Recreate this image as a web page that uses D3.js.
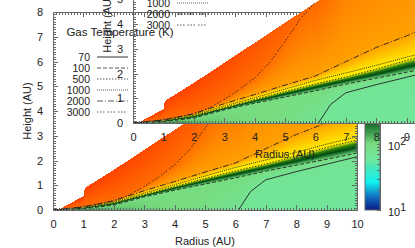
<!DOCTYPE html>
<html>
<head>
<meta charset="utf-8">
<script src="https://cdn.jsdelivr.net/npm/d3@7"></script>
<style>
  html, body { margin: 0; padding: 0; background: #fff; overflow: hidden; }
  svg { display: block; }
  text { font-family: "Liberation Sans", sans-serif; font-size: 11px; fill: #222; }
  .axis path, .axis line { stroke: #666; shape-rendering: crispEdges; }
  .axis text { font-size: 11px; fill: #222; }
  .title { font-size: 11.5px; }
  .legend-row text { font-size: 10.5px; }
</style>
</head>
<body>
<div id="chart"></div>
<script>
// isotherm heights (AU)
const radii      = [0, 1, 2, 3, 4, 5, 6, 7, 8, 9, 10];
const height100  = [0, 0.05, 0.20, 0.53, 0.80, 1.05, 1.30, 1.57, 1.81, 2.05, 2.30];
const heightPeak = [0, 0.07, 0.25, 0.58, 0.87, 1.16, 1.43, 1.70, 1.97, 2.26, 2.53];
const height500  = [0, 0.09, 0.30, 0.62, 0.95, 1.27, 1.58, 1.86, 2.18, 2.53, 2.83];
const height1000 = [0, 0.10, 0.33, 0.68, 1.02, 1.37, 1.72, 2.02, 2.33, 2.66, 2.96];
const height2000 = [0, 0.12, 0.37, 0.78, 1.15, 1.53, 1.90, 2.48, 3.05, 3.52, 4.05];

const radii70   = [6.1, 6.5, 7, 8, 9, 10];
const height70  = [0, 0.75, 1.22, 1.55, 1.85, 2.15];
const radii3000  = [0, 1, 1.5, 2, 2.5, 3, 3.5, 4, 4.5, 5, 5.5, 6];
const height3000 = [0, 0.14, 0.25, 0.38, 0.6, 0.95, 1.35, 1.82, 2.45, 3.3, 4.2, 4.9];

// upper edge of the model grid, with the step at 1 AU
const topRadii  = [0, 0.2, 0.56, 0.95, 1, 1.05, 2, 3, 4, 5, 6, 7, 8, 9, 10];
const topHeight = [0, 0.02, 0.27, 0.52, 0.54, 0.89, 1.62, 2.43, 3.24, 4.05, 4.86, 5.67, 6.48, 7.29, 8.1];
const topLogT   = [3.85, 3.85, 3.85, 3.85, 3.85, 3.85, 3.82, 3.78, 3.68, 3.58, 3.5, 3.42, 3.4, 3.39, 3.38];

// log10 T in the midplane
const midRadii = [0, 1, 2, 3, 5, 6.1, 7, 10];
const midLogT  = [2.4, 2.3, 2.1, 2.03, 1.97, 1.85, 1.82, 1.78];

const isoLogT = { t70: 1.845, t100: 2, peak: 2.4, t500: 2.7, t1000: 3, t2000: 3.3, t3000: 3.48 };

// colour bar stops
const colourLogT = [1, 1.2, 1.42, 1.68, 1.75, 2, 2.14, 2.4, 2.55, 2.7, 3, 3.3, 3.48, 3.85];
const colourHex  = ["#0a1a8a", "#1070c0", "#10f0f0", "#50e8b0", "#70e8a0", "#78dc80", "#48a858",
                    "#004a10", "#2f7f10", "#fff000", "#ffe400", "#ffa000", "#ff6c00", "#ff4000"];

const xTicks = [0, 1, 2, 3, 4, 5, 6, 7, 8, 9, 10];
const yTicks = [0, 1, 2, 3, 4, 5, 6, 7, 8];
const legendLabels = ["70", "100", "500", "1000", "2000", "3000"];
const barExponents = [1, 2, 3, 4];

const width = 415, height = 248;
const margin = { left: 53, top: 12 };
const plotW = 304, plotH = 198;

const xScale = d3.scaleLinear().domain([0, 10]).range([0, plotW]);
const yScale = d3.scaleLinear().domain([0, 8]).range([plotH, 0]);
const colour = d3.scaleLinear().domain(colourLogT).range(colourHex).clamp(true);

const lineStyles = {
  "70":   "",
  "100":  "4,2",
  "500":  "1.5,1.5",
  "1000": "1,1",
  "2000": "6,2,1,2",
  "3000": "1.5,1.5,1.5,1.5,1.5,3"
};

const contours = [
  { label: "70",   r: radii70,   z: height70 },
  { label: "100",  r: radii,     z: height100 },
  { label: "500",  r: radii,     z: height500 },
  { label: "1000", r: radii,     z: height1000 },
  { label: "2000", r: radii,     z: height2000 },
  { label: "3000", r: radii3000, z: height3000 }
];

// paint the temperature field once, both panels share it
const fieldImage = () => {
  const canvas = document.createElement("canvas");
  canvas.width = plotW;
  canvas.height = plotH;
  const ctx = canvas.getContext("2d");
  const img = ctx.createImageData(plotW, plotH);

  const at = (rs, zs) => d3.scaleLinear().domain(rs).range(zs);
  const top = at(topRadii, topHeight), topT = at(topRadii, topLogT), mid = at(midRadii, midLogT);
  const z70 = at(radii70, height70), z100 = at(radii, height100), zPeak = at(radii, heightPeak);
  const z500 = at(radii, height500), z1000 = at(radii, height1000), z2000 = at(radii, height2000);
  const z3000 = at(radii3000, height3000);

  for (let i = 0; i < plotW; i++) {
    const r = xScale.invert(i + 0.5);
    const rows = [[0, mid(r)]];
    if (r >= 6.1) rows.push([z70(r), isoLogT.t70]);
    rows.push([z100(r), isoLogT.t100], [zPeak(r), isoLogT.peak], [z500(r), isoLogT.t500],
              [z1000(r), isoLogT.t1000], [z2000(r), isoLogT.t2000]);
    if (r < 6 && z3000(r) < top(r)) rows.push([z3000(r), isoLogT.t3000]);
    rows.push([top(r), topT(r)]);
    const logT = d3.scaleLinear().domain(rows.map(d => d[0])).range(rows.map(d => d[1]));
    const zTop = top(r);
    for (let j = 0; j < plotH; j++) {
      const z = yScale.invert(j + 0.5);
      if (z > zTop) continue;
      const c = d3.rgb(colour(logT(z)));
      const k = (j * plotW + i) * 4;
      img.data[k] = c.r; img.data[k + 1] = c.g; img.data[k + 2] = c.b; img.data[k + 3] = 255;
    }
  }
  ctx.putImageData(img, 0, 0);
  return canvas.toDataURL();
};

const svg = d3.select("#chart").append("svg")
  .attr("width", width)
  .attr("height", height);

// colour bar gradient
const grad = svg.append("defs").append("linearGradient")
  .attr("id", "bar-grad")
  .attr("x1", 0).attr("x2", 0).attr("y1", 1).attr("y2", 0);
grad.selectAll("stop")
  .data(colourLogT)
  .join("stop")
    .attr("offset", d => (d - 1) / 3)
    .attr("stop-color", (d, i) => colourHex[i]);

const fieldHref = fieldImage();
const lineGen = d3.line().x(d => xScale(d[0])).y(d => yScale(d[1]));

const drawPanel = (dx, dy) => {
  const g = svg.append("g").attr("transform", `translate(${margin.left + dx}, ${margin.top + dy})`);

  g.append("image")
    .attr("href", fieldHref)
    .attr("width", plotW)
    .attr("height", plotH);

  // contours
  g.selectAll(".iso")
    .data(contours)
    .join("path")
      .attr("class", "iso")
      .attr("d", d => lineGen(d.r.map((r, i) => [r, d.z[i]])))
      .attr("fill", "none")
      .attr("stroke", "#222")
      .attr("stroke-width", 0.9)
      .attr("stroke-dasharray", d => lineStyles[d.label]);

  // axes, minor ticks first
  const xMinor = d3.range(0, 101).map(d => d / 10);
  const yMinor = d3.range(0, 81).map(d => d / 10);
  const noLabel = "";

  g.append("g").attr("class", "axis").attr("transform", `translate(0, ${plotH})`)
    .call(d3.axisBottom(xScale).tickValues(xMinor).tickSize(-2.5).tickSizeOuter(0).tickFormat(() => noLabel));
  g.append("g").attr("class", "axis").attr("transform", `translate(0, ${plotH})`)
    .call(d3.axisBottom(xScale).tickValues(xTicks).tickSize(-5).tickSizeOuter(0).tickPadding(10).tickFormat(d3.format("d")));
  g.append("g").attr("class", "axis")
    .call(d3.axisTop(xScale).tickValues(xMinor).tickSize(-2.5).tickSizeOuter(0).tickFormat(() => noLabel));
  g.append("g").attr("class", "axis")
    .call(d3.axisTop(xScale).tickValues(xTicks).tickSize(-5).tickSizeOuter(0).tickFormat(() => noLabel));

  g.append("g").attr("class", "axis")
    .call(d3.axisLeft(yScale).tickValues(yMinor).tickSize(-2.5).tickSizeOuter(0).tickFormat(() => noLabel));
  g.append("g").attr("class", "axis")
    .call(d3.axisLeft(yScale).tickValues(yTicks).tickSize(-5).tickSizeOuter(0).tickPadding(10).tickFormat(d3.format("d")));
  g.append("g").attr("class", "axis").attr("transform", `translate(${plotW}, 0)`)
    .call(d3.axisRight(yScale).tickValues(yMinor).tickSize(-2.5).tickSizeOuter(0).tickFormat(() => noLabel));
  g.append("g").attr("class", "axis").attr("transform", `translate(${plotW}, 0)`)
    .call(d3.axisRight(yScale).tickValues(yTicks).tickSize(-5).tickSizeOuter(0).tickFormat(() => noLabel));

  g.append("text")
    .attr("x", plotW / 2)
    .attr("y", plotH + 35)
    .attr("text-anchor", "middle")
    .text("Radius (AU)");

  g.append("text")
    .attr("transform", "rotate(-90)")
    .attr("x", -plotH / 2)
    .attr("y", -22)
    .attr("text-anchor", "middle")
    .text("Height (AU)");

  // legend
  g.append("text")
    .attr("class", "title")
    .attr("x", 67)
    .attr("y", 24)
    .attr("text-anchor", "middle")
    .text("Gas Temperature (K)");

  const legend = g.selectAll(".legend-row")
    .data(legendLabels)
    .join("g")
      .attr("class", "legend-row")
      .attr("transform", (d, i) => `translate(0, ${45 + i * 11})`);
  legend.append("text")
    .attr("x", 37)
    .attr("y", 4)
    .attr("text-anchor", "end")
    .text(d => d);
  legend.append("line")
    .attr("x1", 44).attr("x2", 75)
    .attr("y1", 0).attr("y2", 0)
    .attr("stroke", d => d === "70" ? "#999" : "#333")
    .attr("stroke-width", d => d === "70" ? 2 : 0.8)
    .attr("stroke-dasharray", d => lineStyles[d]);

  // colour bar
  const barLog = d3.scaleLog().domain([10, 10000]).range([plotH, 0]);
  const bar = g.append("g").attr("transform", `translate(${plotW + 8}, 0)`);
  bar.append("rect")
    .attr("width", 15)
    .attr("height", plotH)
    .attr("fill", "url(#bar-grad)")
    .attr("stroke", "#666");
  bar.append("g").attr("class", "axis").attr("transform", "translate(15, 0)")
    .call(d3.axisRight(barLog).tickSize(-3).tickSizeOuter(0).tickFormat(() => noLabel));

  const barLabel = bar.selectAll(".bar-label")
    .data(barExponents)
    .join("text")
      .attr("class", "bar-label")
      .attr("x", 23)
      .attr("y", d => barLog(Math.pow(10, d)) + 6);
  barLabel.append("tspan").text("10");
  barLabel.append("tspan")
    .attr("dy", -5)
    .style("font-size", "10.5px")
    .text(d => d);
};

drawPanel(0, 0);
drawPanel(80, -87);
</script>
</body>
</html>
